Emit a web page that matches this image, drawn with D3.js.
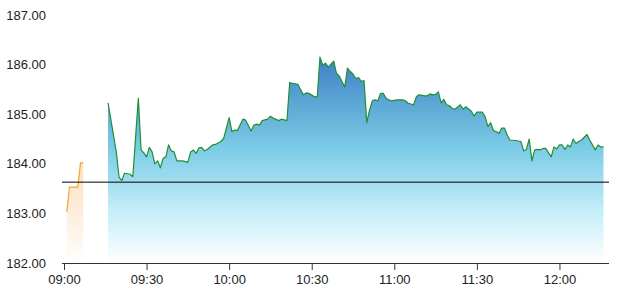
<!DOCTYPE html>
<html>
<head>
<meta charset="utf-8">
<script src="https://cdn.jsdelivr.net/npm/d3@7"></script>
<style>
  body { margin: 0; background: #fff; }
  svg text { font-family: "Liberation Sans", Arial, sans-serif; font-size: 13px; fill: #222; }
</style>
</head>
<body>
<svg id="chart" width="617" height="303"></svg>
<script>
// pre-market series (orange)
var preTimes = ["09:01", "09:02", "09:05", "09:06", "09:07"];
var prePrices = [183.03, 183.53, 183.53, 184.02, 184.02];

// regular session series (green line, blue fill)
var times = ["09:16", "09:19", "09:20", "09:21", "09:22", "09:24", "09:25", "09:27", "09:28", "09:29",
  "09:30", "09:31", "09:32", "09:33", "09:34", "09:35", "09:36", "09:37", "09:38", "09:39",
  "09:40", "09:41", "09:43", "09:45", "09:46", "09:47", "09:48", "09:49", "09:50", "09:51",
  "09:52", "09:54", "09:55", "09:57", "09:58", "10:00", "10:01", "10:02", "10:03", "10:05",
  "10:06", "10:08", "10:09", "10:10", "10:11", "10:12", "10:14", "10:15", "10:16", "10:18",
  "10:19", "10:21", "10:22", "10:23", "10:25", "10:26", "10:27", "10:28", "10:29", "10:31",
  "10:32", "10:33", "10:34", "10:35", "10:36", "10:38", "10:39", "10:40", "10:41", "10:42",
  "10:43", "10:44", "10:45", "10:46", "10:47", "10:48", "10:49", "10:50", "10:51", "10:52",
  "10:53", "10:54", "10:55", "10:56", "10:57", "10:58", "10:59", "11:01", "11:03", "11:04",
  "11:05", "11:07", "11:08", "11:09", "11:11", "11:12", "11:13", "11:14", "11:15", "11:16",
  "11:17", "11:18", "11:19", "11:20", "11:21", "11:22", "11:24", "11:25", "11:26", "11:28",
  "11:29", "11:30", "11:32", "11:33", "11:34", "11:35", "11:36", "11:37", "11:38", "11:39",
  "11:40", "11:41", "11:42", "11:44", "11:46", "11:47", "11:48", "11:49", "11:50", "11:51",
  "11:52", "11:53", "11:54", "11:55", "11:57", "11:58", "11:59", "12:00", "12:01", "12:02",
  "12:03", "12:04", "12:05", "12:06", "12:07", "12:08", "12:10", "12:11", "12:13", "12:14",
  "12:15", "12:16"];
var prices = [185.23, 184.24, 183.73, 183.66, 183.81, 183.79, 183.74, 185.32, 184.28, 184.22,
  184.14, 184.33, 184.24, 184.00, 184.06, 183.92, 184.11, 184.14, 184.38, 184.26,
  184.24, 184.06, 184.06, 184.03, 184.24, 184.28, 184.21, 184.32, 184.33, 184.26,
  184.29, 184.38, 184.39, 184.45, 184.51, 184.93, 184.65, 184.68, 184.67, 184.90,
  184.88, 184.66, 184.78, 184.80, 184.78, 184.87, 184.90, 184.96, 184.92, 184.87,
  184.90, 184.87, 185.64, 185.62, 185.60, 185.49, 185.39, 185.43, 185.42, 185.35,
  185.35, 186.15, 185.99, 186.03, 185.95, 186.07, 185.82, 185.77, 185.66, 185.55,
  185.93, 185.86, 185.81, 185.72, 185.74, 185.66, 185.68, 184.83, 185.08, 185.27,
  185.29, 185.27, 185.42, 185.42, 185.32, 185.29, 185.27, 185.29, 185.29, 185.27,
  185.22, 185.19, 185.35, 185.39, 185.37, 185.37, 185.41, 185.39, 185.40, 185.45,
  185.23, 185.30, 185.19, 185.17, 185.12, 185.10, 185.19, 185.10, 185.15, 185.06,
  184.96, 185.04, 185.04, 184.95, 184.75, 184.83, 184.67, 184.65, 184.61, 184.72,
  184.72, 184.58, 184.48, 184.47, 184.45, 184.26, 184.29, 184.50, 184.06, 184.28,
  184.29, 184.28, 184.31, 184.31, 184.14, 184.34, 184.30, 184.38, 184.38, 184.29,
  184.38, 184.34, 184.50, 184.41, 184.45, 184.48, 184.59, 184.48, 184.28, 184.38,
  184.34, 184.34];

var prevClose = 183.63;
var yTicks = [182, 183, 184, 185, 186, 187];
var xTickLabels = ["09:00", "09:30", "10:00", "10:30", "11:00", "11:30", "12:00"];

var parseTime = d3.timeParse("%H:%M");
var svg = d3.select("#chart");

var x = d3.scaleTime()
    .domain([parseTime("09:00"), parseTime("12:18")])
    .range([64, 609]);
var y = d3.scaleLinear()
    .domain([182, 187])
    .range([263, 15]);

var pre = preTimes.map(function (t, i) { return { t: parseTime(t), v: prePrices[i] }; });
var main = times.map(function (t, i) { return { t: parseTime(t), v: prices[i] }; });

var defs = svg.append("defs");

var blueGrad = defs.append("linearGradient")
    .attr("id", "blueFill")
    .attr("gradientUnits", "userSpaceOnUse")
    .attr("x1", 0).attr("x2", 0)
    .attr("y1", y(186.2)).attr("y2", y(182));
blueGrad.append("stop").attr("offset", "0%").attr("stop-color", "#3b7fc2");
blueGrad.append("stop").attr("offset", "45%").attr("stop-color", "#7ccbe6");
blueGrad.append("stop").attr("offset", "75%").attr("stop-color", "#c4eef8");
blueGrad.append("stop").attr("offset", "100%").attr("stop-color", "#ffffff");

var orangeGrad = defs.append("linearGradient")
    .attr("id", "orangeFill")
    .attr("gradientUnits", "userSpaceOnUse")
    .attr("x1", 0).attr("x2", 0)
    .attr("y1", y(184.1)).attr("y2", y(182));
orangeGrad.append("stop").attr("offset", "0%").attr("stop-color", "#fde0bc");
orangeGrad.append("stop").attr("offset", "60%").attr("stop-color", "#fef0e2");
orangeGrad.append("stop").attr("offset", "100%").attr("stop-color", "#ffffff");

var area = d3.area()
    .x(function (d) { return x(d.t); })
    .y0(y(182))
    .y1(function (d) { return y(d.v); });
var line = d3.line()
    .x(function (d) { return x(d.t); })
    .y(function (d) { return y(d.v); });

svg.append("path").datum(pre)
    .attr("d", area)
    .attr("fill", "url(#orangeFill)");
svg.append("path").datum(pre)
    .attr("d", line)
    .attr("fill", "none")
    .attr("stroke", "#f0a830")
    .attr("stroke-width", 1.2);

svg.append("path").datum(main)
    .attr("d", area)
    .attr("fill", "url(#blueFill)");
svg.append("path").datum(main)
    .attr("d", line)
    .attr("fill", "none")
    .attr("stroke", "#1f8f35")
    .attr("stroke-width", 1.2)
    .attr("stroke-linejoin", "round");

// previous close line
svg.append("line")
    .attr("x1", 62).attr("x2", x.range()[1])
    .attr("y1", y(prevClose)).attr("y2", y(prevClose))
    .attr("stroke", "#000")
    .attr("stroke-width", 1);

// y labels, no axis line
svg.append("g").selectAll("text")
    .data(yTicks)
  .enter().append("text")
    .attr("x", 46)
    .attr("y", function (d) { return y(d); })
    .attr("dy", "0.35em")
    .attr("text-anchor", "end")
    .text(function (d) { return d3.format(".2f")(d); });

var xAxis = d3.axisBottom(x)
    .tickValues(xTickLabels.map(parseTime))
    .tickFormat(d3.timeFormat("%H:%M"))
    .tickSize(7)
    .tickSizeOuter(0)
    .tickPadding(5);

var gx = svg.append("g")
    .attr("transform", "translate(0," + y(182) + ")")
    .call(xAxis);
gx.select(".domain").attr("stroke", "#333").attr("d", "M62,0.5H609");
gx.selectAll(".tick line").attr("stroke", "#333");
gx.selectAll(".tick text").style("font-size", "13px").attr("fill", "#222");
</script>
</body>
</html>
